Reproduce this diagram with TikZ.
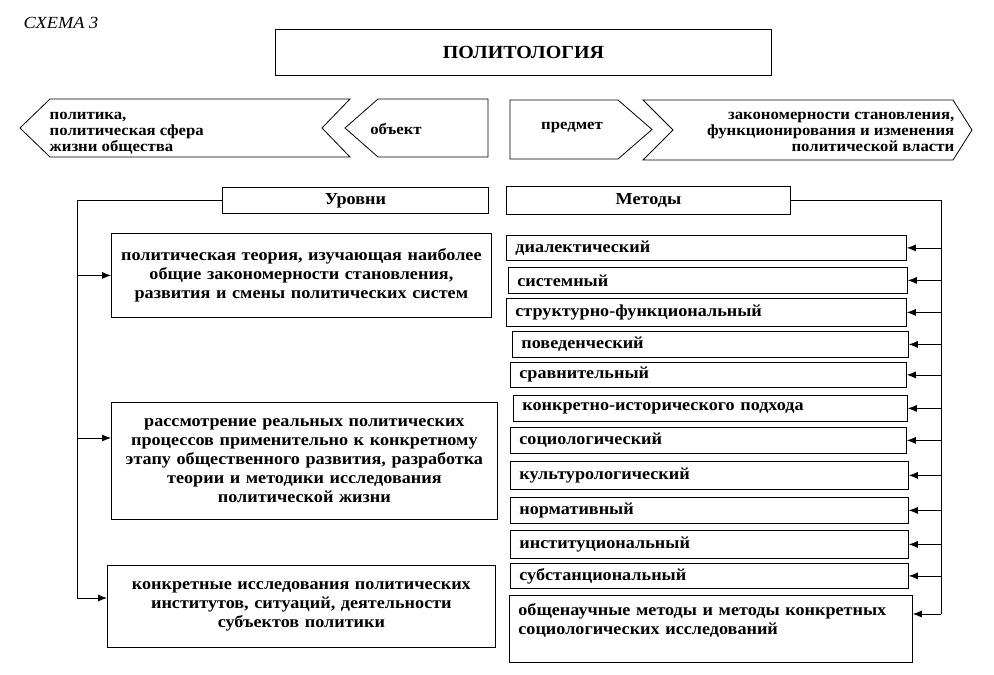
\documentclass[tikz,border=0pt]{standalone}
\usepackage{fontspec}
\setmainfont{Liberation Serif}[FakeStretch=1.08]
\usetikzlibrary{positioning, arrows.meta}

\begin{document}
\begin{tikzpicture}[x=1bp, y=-1bp, line width=0.8bp,
  txt/.style={font=\fontsize{16.8bp}{19bp}\selectfont\bfseries},
  top/.style={font=\fontsize{15.5bp}{16bp}\selectfont\bfseries},
  box/.style={draw, txt, anchor=north west, inner xsep=5bp, inner ysep=0pt},
  lvl/.style={box, align=center},
  mtd/.style={box, inner xsep=9bp, align=left},
  tip/.style={-{Latex[length=9bp, width=7bp]}}]
\useasboundingbox (0,0) rectangle (994,675);
\node[anchor=base west, font=\fontsize{17bp}{19bp}\selectfont\itshape] (schema) at (20,29) {СХЕМА 3};
\node[box, minimum width=496bp, minimum height=46bp, font=\fontsize{18.5bp}{22bp}\selectfont\bfseries] (polit) at (275,29) {ПОЛИТОЛОГИЯ};
% object and subject
\draw (20,128) -- (50,99) -- (350,99) -- (322,128) -- (350,157) -- (50,157) -- cycle;
\node[top, anchor=west, align=left] (sfera) at (46,133) {политика,\\политическая сфера\\жизни общества};
\draw (345,128) -- (378,99) -- (488,99) -- (488,157) -- (378,157) -- cycle;
\node[top] (obj) at (396,129) {объект};
\draw (510,100) -- (618,100) -- (652,129.5) -- (618,159) -- (510,159) -- cycle;
\node[top] (pred) at (572,127) {предмет};
\draw (643,100) -- (953,100) -- (972,130) -- (953,160) -- (643,160) -- (673,130) -- cycle;
\node[top, anchor=east, align=right] (zakon) at (958,132) {закономерности становления,\\функционирования и изменения\\политической власти};
% levels
\node[box, minimum width=266bp, minimum height=26bp] (urov) at (222,187) {Уровни};
\node[lvl, text width=370bp, minimum height=84bp] (l1) at (111,233) {политическая теория, изучающая наиболее\\общие закономерности становления,\\развития и смены политических систем};
\node[lvl, text width=376bp, minimum height=117bp] (l2) at (111,402) {рассмотрение реальных политических\\процессов применительно к конкретному\\этапу общественного развития, разработка\\теории и методики исследования\\политической жизни};
\node[lvl, text width=378bp, minimum height=82bp] (l3) at (107,565) {конкретные исследования политических\\институтов, ситуаций, деятельности\\субъектов политики};
\coordinate (la2) at (77,438);
\coordinate (lbot) at (77,598);
\draw (urov.west) -| (lbot);
\draw[tip] (l1.west -| lbot) -- (l1.west);
\draw[tip] (la2) -- (la2 -| l2.west);
\draw[tip] (lbot) -- (lbot -| l3.west);
% methods
\node[box, minimum width=284bp, minimum height=28bp] (metod) at (506,186) {Методы};
\node[mtd, text width=382bp, minimum height=25bp] (m1) at (506,235) {диалектический};
\node[mtd, text width=381bp, minimum height=26bp] (m2) at (508,267) {системный};
\node[mtd, text width=382bp, minimum height=28bp] (m3) at (506,298) {структурно-функциональный};
\node[mtd, text width=378bp, minimum height=26bp] (m4) at (512,331) {поведенческий};
\node[mtd, text width=378bp, minimum height=25bp] (m5) at (510,362) {сравнительный};
\node[mtd, text width=376bp, minimum height=26bp] (m6) at (513,395) {конкретно-исторического подхода};
\node[mtd, text width=378bp, minimum height=26bp] (m7) at (510,427) {социологический};
\node[mtd, text width=380bp, minimum height=28bp] (m8) at (510,461) {культурологический};
\node[mtd, text width=380bp, minimum height=26bp] (m9) at (510,497) {нормативный};
\node[mtd, text width=380bp, minimum height=28bp] (m10) at (510,530) {институциональный};
\node[mtd, text width=380bp, minimum height=25bp] (m11) at (510,563) {субстанциональный};
\node[mtd, text width=385bp, minimum height=67bp] (m12) at (509,595) {общенаучные методы и методы конкретных\\социологических исследований\\ \mbox{}};
\coordinate (rbot) at (941,614);
\draw (metod.east) -| (rbot);
\draw[tip] (m1.east -| rbot) -- (m1.east);
\draw[tip] (m2.east -| rbot) -- (m2.east);
\draw[tip] (m3.east -| rbot) -- (m3.east);
\draw[tip] (m4.east -| rbot) -- (m4.east);
\draw[tip] (m5.east -| rbot) -- (m5.east);
\draw[tip] (m6.east -| rbot) -- (m6.east);
\draw[tip] (m7.east -| rbot) -- (m7.east);
\draw[tip] (m8.east -| rbot) -- (m8.east);
\draw[tip] (m9.east -| rbot) -- (m9.east);
\draw[tip] (m10.east -| rbot) -- (m10.east);
\draw[tip] (m11.east -| rbot) -- (m11.east);
\draw[tip] (rbot) -- (rbot -| m12.east);
\end{tikzpicture}
\end{document}
